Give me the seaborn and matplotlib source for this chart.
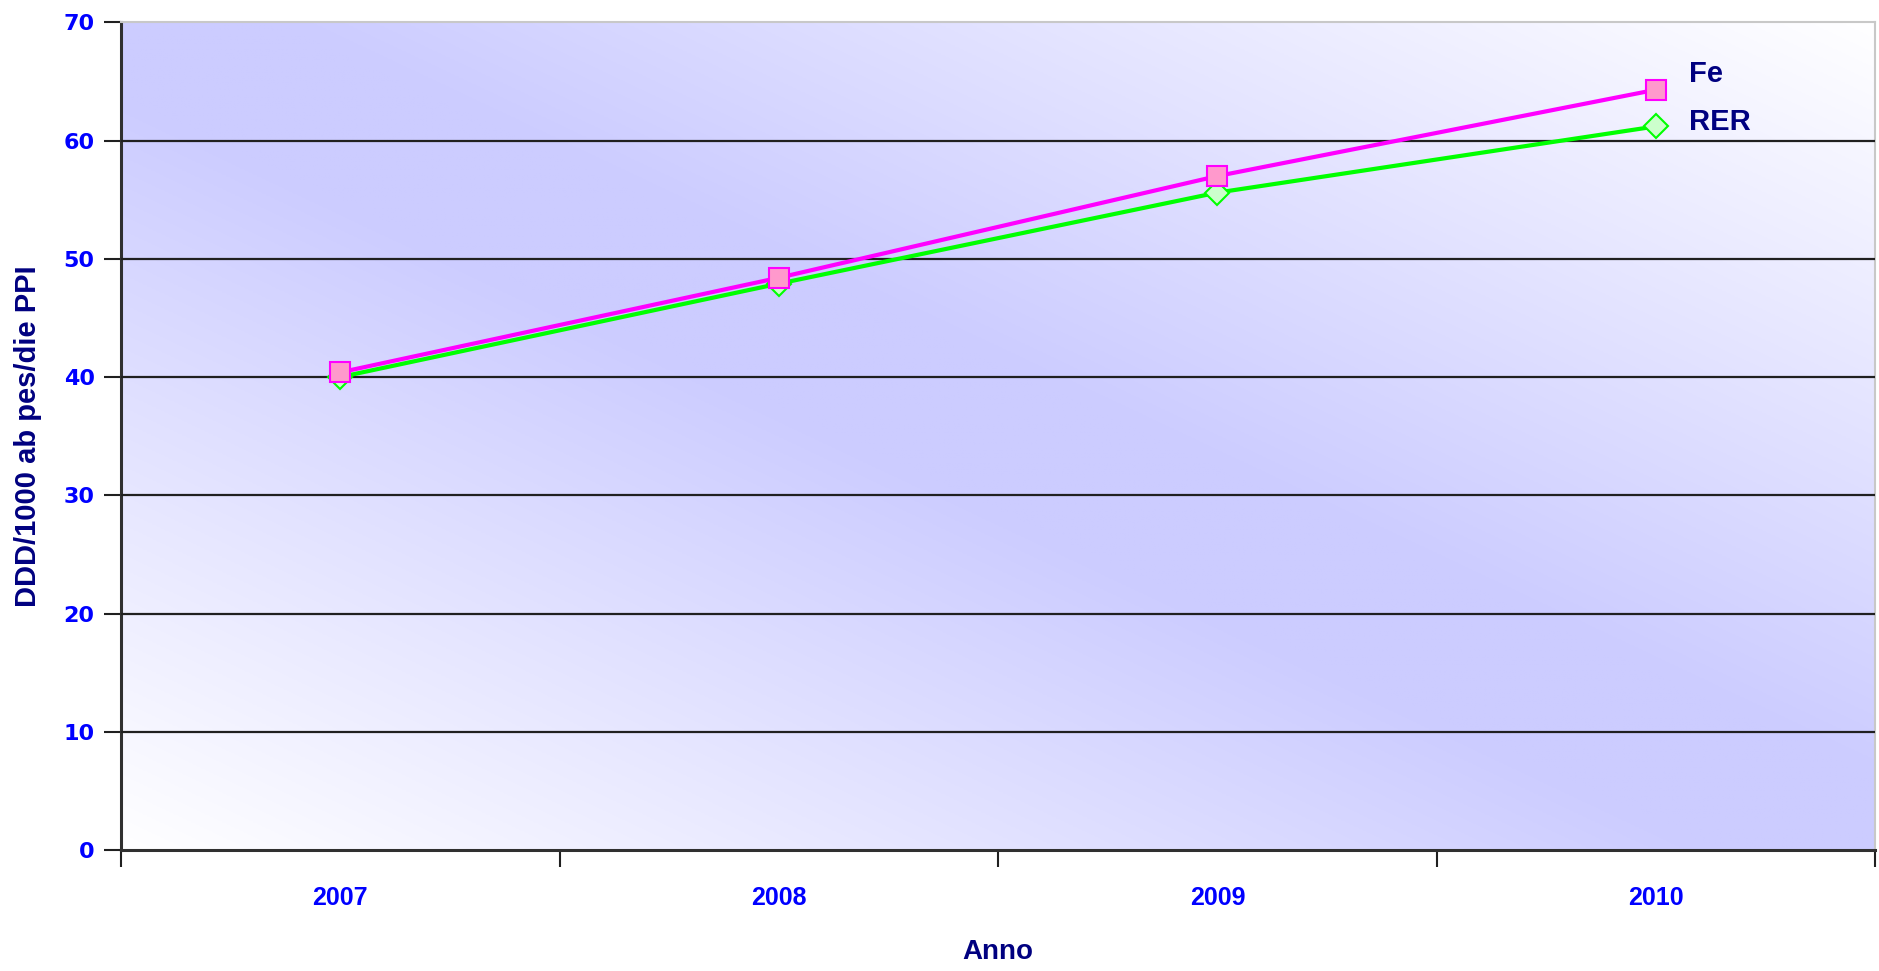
import numpy as np
import pandas as pd
import matplotlib
matplotlib.use("Agg")
import matplotlib.pyplot as plt
import seaborn as sns
from matplotlib.colors import to_rgb
from matplotlib.ticker import FixedLocator, NullFormatter

years = ["2007", "2008", "2009", "2010"]
fe_values = [40.4, 48.4, 57.0, 64.3]
rer_values = [40.0, 47.9, 55.6, 61.2]
series_names = ["Fe", "RER"]
y_ticks = [0, 10, 20, 30, 40, 50, 60, 70]

sns.set_theme(style="white")
plt.rcParams['font.family'] = ['Liberation Sans', 'DejaVu Sans']

df = pd.DataFrame({
    "pos": list(range(len(years))) * 2,
    "Anno": years * 2,
    "value": fe_values + rer_values,
    "serie": [series_names[0]] * len(years) + [series_names[1]] * len(years),
})

fig = plt.figure(figsize=(18.79, 9.71), dpi=100)
ax = fig.add_axes([0.0644, 0.1246, 0.9336, 0.8524])

# gradient background
n = 400
u = np.linspace(0, 1, n)
U, V = np.meshgrid(u, u)
t = (U + V) / 2.0
w = 1 - np.abs(2 * t - 1)
w = np.clip(w * 1.1, 0, 1)
lav = np.array(to_rgb("#ccccff"))
white = np.array([1.0, 1.0, 1.0])
img = white[None, None, :] * (1 - w[..., None]) + lav[None, None, :] * w[..., None]
ax.imshow(img, extent=[-0.5, 3.5, 0, 70], origin="lower", aspect="auto", zorder=0)

for yv in y_ticks[1:-1]:
    ax.axhline(yv, color="#202020", lw=1.6, zorder=1)

palette = {"Fe": "#ff00ff", "RER": "#00ff00"}
sns.lineplot(data=df, x="pos", y="value", hue="serie", palette=palette,
             style="serie", markers={"Fe": "s", "RER": "D"}, dashes=False,
             lw=3.0, ax=ax, legend=False, zorder=3)

fills = {"Fe": "#ff99cc", "RER": "#ccffcc"}
sizes = {"Fe": 15, "RER": 12}
for ln in ax.get_lines():
    xd = ln.get_xdata()
    if len(xd) == 0:
        continue
    name = "Fe" if to_rgb(ln.get_color()) == (1.0, 0.0, 1.0) else "RER"
    ln.set_markerfacecolor(fills[name])
    ln.set_markeredgecolor(palette[name])
    ln.set_markersize(sizes[name])
    ln.set_markeredgewidth(1.5)
    ln.set_zorder(4 if name == "Fe" else 3)

ax.set_xlim(-0.5, 3.5)
ax.set_ylim(0, 70)
ax.set_xticks(range(len(years)))
ax.set_xticklabels(years)
ax.xaxis.set_minor_locator(FixedLocator([-0.5, 0.5, 1.5, 2.5, 3.5]))
ax.xaxis.set_minor_formatter(NullFormatter())
ax.tick_params(axis="x", which="major", length=0, pad=26)
ax.tick_params(axis="x", which="minor", length=12, width=1.5, color="#202020", bottom=True)
ax.set_yticks(y_ticks)
ax.tick_params(axis="y", which="major", length=12, width=1.5, color="#202020", left=True, pad=7)

for lab in ax.get_xticklabels():
    lab.set_fontweight("bold")
    lab.set_fontsize(18)
    lab.set_color("#0000ff")
for lab in ax.get_yticklabels():
    lab.set_fontfamily(['DejaVu Sans'])
    lab.set_fontweight("bold")
    lab.set_fontsize(16)
    lab.set_color("#0000ff")

ax.set_xlabel("Anno", fontsize=20, fontweight="bold", color="#000080")
ax.set_ylabel("DDD/1000 ab pes/die PPI", fontsize=21, fontweight="bold", color="#000080")
ax.xaxis.set_label_coords(0.5, -0.108)
ax.yaxis.set_label_coords(-0.045, 0.5)

for side in ["left", "bottom"]:
    ax.spines[side].set_color("#303030")
    ax.spines[side].set_linewidth(2.2)
for side in ["top", "right"]:
    ax.spines[side].set_color("#c8c8c8")
    ax.spines[side].set_linewidth(1.5)

ax.text(0.894, 0.938, series_names[0], transform=ax.transAxes, fontsize=21,
        fontweight="bold", color="#000080", va="center", ha="left")
ax.text(0.894, 0.880, series_names[1], transform=ax.transAxes, fontsize=21,
        fontweight="bold", color="#000080", va="center", ha="left")

fig.savefig("out.png", dpi=100)
